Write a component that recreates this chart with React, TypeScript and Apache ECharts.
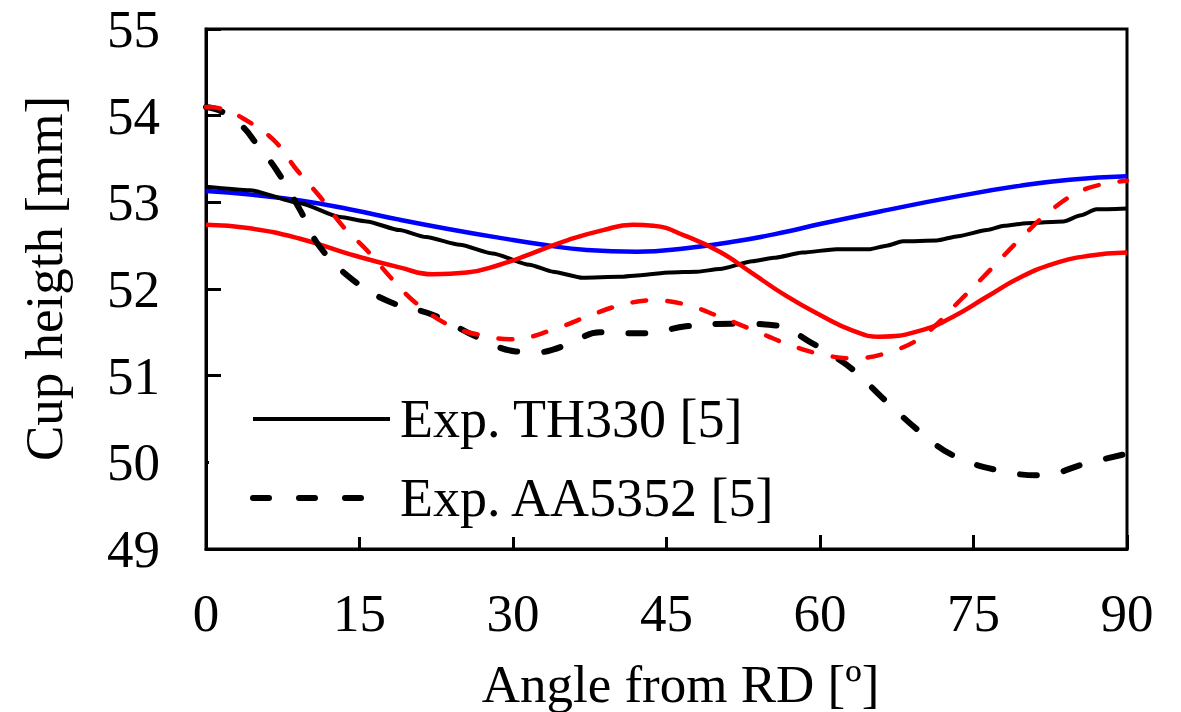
import React, { useEffect, useRef } from "react";
import * as echarts from "echarts";

const FONT = "'Liberation Serif', 'Times New Roman', serif";

const xTicks = [0, 15, 30, 45, 60, 75, 90];
const yTicks = [49, 50, 51, 52, 53, 54, 55];

const legendNames = ["Exp. TH330 [5]", "Exp. AA5352 [5]"];

// Exp. TH330 [5] (black solid)
const expTH330: [number, number][] = [
  [0, 53.18], [4.3, 53.14], [9.2, 52.99], [13.1, 52.83], [15.7, 52.78], [18.9, 52.68],
  [21.5, 52.6], [24.8, 52.51], [28, 52.41], [31.6, 52.28], [33.9, 52.2], [36.8, 52.13],
  [40.4, 52.14], [42.5, 52.16], [45.3, 52.19], [48, 52.2], [50.2, 52.23], [53.4, 52.32],
  [55.5, 52.36], [58.3, 52.42], [61.6, 52.46], [64.9, 52.46], [66.5, 52.5], [68.1, 52.55],
  [71.4, 52.56], [73.5, 52.61], [76.3, 52.68], [78, 52.73], [80.2, 52.76], [83.8, 52.78],
  [85.5, 52.85], [87, 52.92], [90, 52.93],
];

// Exp. AA5352 [5] (black dashed)
const expAA5352: [number, number][] = [
  [0, 54.1], [1.5, 54.05], [3.6, 53.87], [4.9, 53.68], [6.9, 53.37], [9.2, 52.91],
  [11.1, 52.49], [14.4, 52.1], [18, 51.85], [22.2, 51.7], [26.4, 51.45], [30.3, 51.28],
  [32.5, 51.27], [33.9, 51.3], [35.5, 51.37], [38.5, 51.5], [40.4, 51.49], [43, 51.49],
  [46.9, 51.57], [51.5, 51.6], [55.7, 51.58], [59.3, 51.37], [61, 51.25], [63.2, 51.07],
  [66.5, 50.7], [69.8, 50.35], [73, 50.08], [77.3, 49.91], [81.5, 49.85], [86.1, 49.99],
  [90, 50.1],
];

// Predicted TH330 (blue solid)
const predTH330Blue: [number, number][] = [
  [0, 53.13], [4.3, 53.09], [9.2, 53.02], [14, 52.92], [18.9, 52.8], [23.8, 52.69],
  [28.7, 52.59], [33, 52.51], [37.2, 52.45], [42.1, 52.43], [46.9, 52.47], [51.8, 52.55],
  [56.7, 52.66], [60, 52.75], [66.5, 52.91], [73, 53.06], [79.5, 53.19], [84.4, 53.26],
  [90, 53.3],
];

// Predicted TH330 (red solid)
const predTH330Red: [number, number][] = [
  [0, 52.74], [4.3, 52.7], [9.2, 52.58], [14.1, 52.4], [18.9, 52.25], [22.2, 52.17],
  [25.5, 52.19], [28.7, 52.28], [31.6, 52.4], [35.5, 52.57], [38.8, 52.68], [41.7, 52.74],
  [43.7, 52.73], [46.9, 52.61], [50.2, 52.43], [53.4, 52.18], [56.7, 51.92], [60, 51.7],
  [63.2, 51.52], [65.8, 51.45], [69.8, 51.52], [73, 51.68], [76.3, 51.91], [79.5, 52.13],
  [82.8, 52.29], [86.1, 52.38], [90, 52.42],
];

// Predicted AA5352 (red dashed)
const predAA5352Red: [number, number][] = [
  [0, 54.1], [1.5, 54.08], [3.6, 53.97], [6.6, 53.72], [8.9, 53.37], [11.1, 53.07],
  [13.4, 52.72], [15.7, 52.45], [18.3, 52.1], [20.6, 51.83], [23.8, 51.58], [27.1, 51.46],
  [30, 51.42], [33.9, 51.53], [37.2, 51.68], [40.4, 51.81], [43.7, 51.87], [46.9, 51.82],
  [50.2, 51.68], [53.4, 51.53], [56.7, 51.37], [60, 51.25], [63.2, 51.2], [67.5, 51.3],
  [70.4, 51.49], [73.7, 51.87], [76.3, 52.18], [79.5, 52.57], [82.8, 52.93], [86.1, 53.16],
  [90, 53.25],
];

export default function App() {
  const ref = useRef<HTMLDivElement>(null);
  useEffect(() => {
    document.body.style.margin = "0";
    const chart = echarts.init(ref.current!, null, { renderer: "svg", width: 1181, height: 712 });
    const lineBase = { type: "line", symbol: "none", smooth: 0.4 };
    chart.setOption({
      animation: false,
      backgroundColor: "#fff",
      textStyle: { fontFamily: FONT, color: "#000" },
      grid: {
        left: 206, top: 29, width: 921, height: 520,
        show: true, borderColor: "#000", borderWidth: 3, backgroundColor: "transparent",
        outerBoundsMode: "none",
      },
      xAxis: {
        type: "value", min: xTicks[0], max: xTicks[xTicks.length - 1], interval: 15,
        name: "Angle from RD [º]", nameLocation: "middle", nameGap: 108,
        nameTextStyle: { fontFamily: FONT, fontSize: 53, color: "#000", padding: [0, 0, 0, 28] },
        axisLine: { lineStyle: { color: "#000", width: 3 } },
        axisTick: { inside: true, length: 14, lineStyle: { color: "#000", width: 3 } },
        axisLabel: { fontFamily: FONT, fontSize: 53, color: "#000", margin: 37 },
        splitLine: { show: false },
      },
      yAxis: {
        type: "value", min: yTicks[0], max: yTicks[yTicks.length - 1], interval: 1,
        name: "Cup heigth [mm]", nameLocation: "middle", nameGap: 136,
        nameTextStyle: { fontFamily: FONT, fontSize: 53, color: "#000", padding: [0, 0, 0, 21] },
        axisLine: { lineStyle: { color: "#000", width: 3 } },
        axisTick: { inside: true, length: 15, lineStyle: { color: "#000", width: 3 } },
        axisLabel: { fontFamily: FONT, fontSize: 53, color: "#000", margin: 46 },
        splitLine: { show: false },
      },
      legend: {
        data: [
          { name: legendNames[0], lineStyle: { width: 4, type: "solid" } },
          { name: legendNames[1], lineStyle: { width: 6, type: [16, 30], cap: "round" } },
        ],
        orient: "vertical",
        left: 209, top: 380,
        padding: [12, 20, 12, 41],
        backgroundColor: "#fff",
        itemWidth: 137, itemHeight: 14, itemGap: 25,
        itemStyle: { color: "rgba(0,0,0,0)", borderWidth: 0, opacity: 0 },
        textStyle: { fontFamily: FONT, fontSize: 54, color: "#000", lineHeight: 50, padding: [0, 0, 0, 5] },
      },
      series: [
        { ...lineBase, name: "Pred. TH330 (blue)", data: predTH330Blue, smooth: 0.5, lineStyle: { color: "#0000ff", width: 4.5 }, itemStyle: { color: "#0000ff" } },
        { ...lineBase, name: legendNames[0], data: expTH330, smooth: 0.2, smoothMonotone: "x", lineStyle: { color: "#000", width: 4 }, itemStyle: { color: "#000" } },
        { ...lineBase, name: "Pred. TH330 (red)", data: predTH330Red, smooth: 0.5, lineStyle: { color: "#ff0000", width: 4.5 }, itemStyle: { color: "#ff0000" } },
        { ...lineBase, name: legendNames[1], data: expAA5352, lineStyle: { color: "#000", width: 6, type: [17, 27], cap: "round" }, itemStyle: { color: "#000" } },
        { ...lineBase, name: "Pred. AA5352 (red)", data: predAA5352Red, lineStyle: { color: "#ff0000", width: 4.5, type: [14, 21], cap: "round" }, itemStyle: { color: "#ff0000" } },
      ],
    });
    return () => chart.dispose();
  }, []);
  return <div ref={ref} style={{ width: 1181, height: 712 }} />;
}
